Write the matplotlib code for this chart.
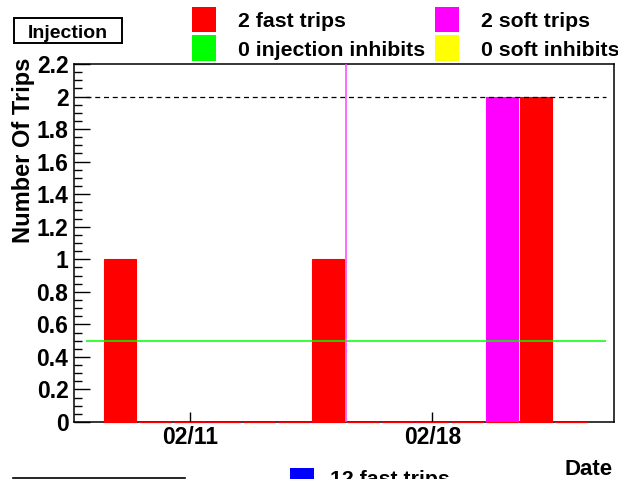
# Injection trips per day (ROOT style summary plot)

import matplotlib
matplotlib.use("Agg")
import matplotlib.pyplot as plt
from matplotlib.patches import Rectangle
from matplotlib.lines import Line2D
import matplotlib.ticker as mtick

# one bin per day in February
days = list(range(9, 23))
fast_trips = [1, 0, 0, 0, 0, 0, 1, 0, 0, 0, 0, 0, 2, 0]
soft_trips = [0, 0, 0, 0, 0, 0, 0, 0, 0, 0, 0, 2, 0, 0]
date_ticks = [11.5, 18.5]
date_labels = ["02/11", "02/18"]
trip_limit = 2.0
inhibit_level = 0.5
marker_day = 16.0
line_span = (8.5, 23.5)

legend_labels = ["2 fast trips", "0 injection inhibits", "2 soft trips", "0 soft inhibits"]
legend_colors = ["#ff0000", "#00ff00", "#ff00ff", "#ffff00"]
next_labels = ["12 fast trips"]
next_colors = ["#0000ff"]

plt.rcParams["font.family"] = ["Liberation Sans", "DejaVu Sans"]
plt.rcParams["font.weight"] = "bold"

W, H = 618, 479
fig = plt.figure(figsize=(W / 100, H / 100), dpi=100)

def fx(x):
    return x / W

def fy(y):
    return 1 - y / H

# axes frame in pixels: x 74..614, y 64..422
ax = fig.add_axes([fx(74), fy(422), 540 / W, 358 / H])

centers = [d + 0.5 for d in days]
ax.bar(centers, soft_trips, width=0.93, color="#ff00ff", edgecolor="#ff00ff",
       linewidth=0.8, zorder=3, clip_on=False)
ax.bar(centers, fast_trips, width=0.93, color="#ff0000", edgecolor="#ff0000",
       linewidth=0.8, zorder=3, clip_on=False)

ax.hlines(trip_limit, *line_span, colors="black", linestyles=(0, (4, 3)), linewidth=0.9, zorder=4)
ax.hlines(inhibit_level, *line_span, colors="#00ff00", linewidth=1.1, zorder=4)
ax.axvline(marker_day, color="#ff40ff", linewidth=1.1, zorder=4)

ax.set_xlim(9 - 0.836, 23.74)
ax.set_ylim(0, 2.2)

ax.yaxis.set_major_locator(mtick.MultipleLocator(0.2))
ax.yaxis.set_minor_locator(mtick.MultipleLocator(0.05))
ax.yaxis.set_major_formatter(mtick.FuncFormatter(lambda v, p: f"{v:.1f}".rstrip("0").rstrip(".")))
ax.set_xticks(date_ticks)
ax.set_xticklabels(date_labels)

ax.tick_params(axis="y", which="major", direction="in", length=11.5, width=1, labelsize=16.5, pad=4)
ax.tick_params(axis="y", which="minor", direction="in", length=5.8, width=1)
ax.tick_params(axis="x", which="major", direction="in", length=7.5, width=1, labelsize=16.5, pad=3)
for s in ax.spines.values():
    s.set_linewidth(1.1)

fig.text(fx(24), fy(58), "Number Of Trips", rotation=90, ha="center", va="top",
         fontsize=17, fontweight="bold")
fig.text(fx(613), fy(475), "Date", ha="right", va="baseline", fontsize=16, fontweight="bold")

# title box
fig.add_artist(Rectangle((fx(13.5), fy(43.5)), 109 / W, 25 / H, transform=fig.transFigure,
                         facecolor="white", edgecolor="black", linewidth=1.4))
fig.text(fx(68), fy(31), "Injection", ha="center", va="center_baseline", fontsize=14)

# legend
for i, (lab, col) in enumerate(zip(legend_labels, legend_colors)):
    x0 = 192 if i < 2 else 435
    y0 = 7 if i % 2 == 0 else 35.5
    fig.add_artist(Rectangle((fx(x0), fy(y0 + 25)), 24 / W, 25 / H, transform=fig.transFigure,
                             facecolor=col, edgecolor="none"))
    fig.text(fx(x0 + 46), fy(y0 + 12.5), lab, ha="left", va="center_baseline", fontsize=15.3)

# next panel peeking in at the bottom
fig.add_artist(Line2D([fx(13), fx(185)], [fy(478.3), fy(478.3)], transform=fig.transFigure,
                      color="black", linewidth=1.2))
for lab, col in zip(next_labels, next_colors):
    fig.add_artist(Rectangle((fx(290), fy(492)), 24 / W, 24 / H, transform=fig.transFigure,
                             facecolor=col, edgecolor="none"))
    fig.text(fx(330), fy(485), lab, ha="left", va="baseline", fontsize=15.3)

fig.savefig("out.png", dpi=100)
